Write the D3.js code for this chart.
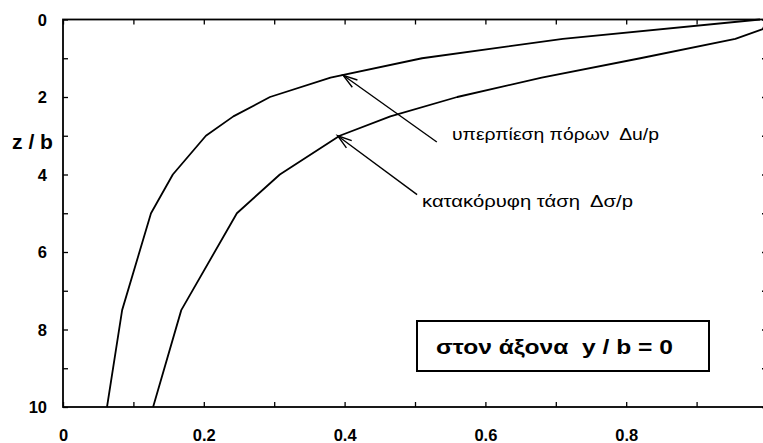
<!DOCTYPE html>
<html>
<head>
<meta charset="utf-8">
<script src="https://cdn.jsdelivr.net/npm/d3@7"></script>
<style>
  html, body { margin: 0; padding: 0; background: #fff; }
  svg { display: block; font-family: "Liberation Sans", Arial, sans-serif; }
  .axis path { display: none; }
  .axis line { stroke: #000; stroke-width: 1.3; }
  .axis text { font-weight: bold; font-size: 16.5px; fill: #000; }
</style>
</head>
<body>
<div id="chart"></div>
<script>
/* ---------- data ---------- */

// υπερπίεση πόρων Δu/p
const zPore = [0, 0.5, 1, 1.5, 2, 2.5, 3, 4, 5, 7.5, 10];
const porePressure = [0.99, 0.71, 0.51, 0.38, 0.294, 0.242, 0.203, 0.156, 0.125, 0.084, 0.0625];

// κατακόρυφη τάση Δσ/p
const zStress = [0, 0.25, 0.5, 1, 1.5, 2, 2.5, 3, 4, 5, 7.5, 10];
const verticalStress = [1.0, 0.994, 0.955, 0.82, 0.68, 0.56, 0.465, 0.393, 0.308, 0.247, 0.168, 0.128];

const xTicks = [0, 0.1, 0.2, 0.3, 0.4, 0.5, 0.6, 0.7, 0.8, 0.9, 1];
const xLabels = [0, 0.2, 0.4, 0.6, 0.8];
const yTicks = [0, 1, 2, 3, 4, 5, 6, 7, 8, 9, 10];
const yLabels = [0, 2, 4, 6, 8, 10];

// annotations: arrow tail -> tip (data units), label text
const labelPore = "υπερπίεση πόρων  Δu/p";
const labelStress = "κατακόρυφη τάση  Δσ/p";
const arrowPore = { from: [0.531, 3.16], to: [0.398, 1.44] };
const arrowStress = { from: [0.503, 4.52], to: [0.39, 3.0] };
const boxText = "στον άξονα  y / b = 0";

/* ---------- layout ---------- */

const W = 763, H = 443;
const margin = { top: 19.5, right: -4, bottom: 36, left: 63 };

const svg = d3.select("#chart").append("svg")
  .attr("width", W)
  .attr("height", H);

const x = d3.scaleLinear().domain([0, 1]).range([margin.left, W - margin.right]);
const y = d3.scaleLinear().domain([0, 10]).range([margin.top, H - margin.bottom]);

/* ---------- axes (ticks pointing inward) ---------- */

svg.append("g").attr("class", "axis")
  .attr("transform", `translate(${x(0)},0)`)
  .call(d3.axisLeft(y).tickValues(yTicks).tickSize(-5).tickPadding(16)
    .tickFormat(d => yLabels.includes(d) ? d : ""))
  .selectAll("text").attr("dy", "0.36em");

svg.append("g").attr("class", "axis")
  .attr("transform", `translate(${x(1)},0)`)
  .call(d3.axisRight(y).tickValues(yTicks).tickSize(-5).tickFormat(""));

svg.append("g").attr("class", "axis")
  .attr("transform", `translate(0,${y(10)})`)
  .call(d3.axisBottom(x).tickValues(xTicks).tickSize(-5).tickPadding(22)
    .tickFormat(d => xLabels.some(v => Math.abs(v - d) < 1e-9) ? d3.format("")(d) : ""));

svg.append("g").attr("class", "axis")
  .attr("transform", `translate(0,${y(0)})`)
  .call(d3.axisTop(x).tickValues(xTicks).tickSize(-5).tickFormat(""));

// frame
svg.append("rect")
  .attr("x", x(0)).attr("y", y(0))
  .attr("width", x(1) - x(0)).attr("height", y(10) - y(0))
  .attr("fill", "none").attr("stroke", "#000").attr("stroke-width", 1.8);

svg.append("text")
  .attr("x", 12).attr("y", 149)
  .attr("font-size", 20).attr("font-weight", "bold")
  .attr("textLength", 41).attr("lengthAdjust", "spacingAndGlyphs")
  .style("white-space", "pre")
  .text("z / b");

/* ---------- curves ---------- */

const line = d3.line().x(d => x(d[0])).y(d => y(d[1]));

svg.append("path")
  .datum(d3.zip(porePressure, zPore))
  .attr("d", line)
  .attr("fill", "none").attr("stroke", "#000").attr("stroke-width", 1.8)
  .attr("stroke-linejoin", "round");

svg.append("path")
  .datum(d3.zip(verticalStress, zStress))
  .attr("d", line)
  .attr("fill", "none").attr("stroke", "#000").attr("stroke-width", 1.8)
  .attr("stroke-linejoin", "round");

/* ---------- arrows ---------- */

function drawArrow(a) {
  const x1 = x(a.from[0]), y1 = y(a.from[1]);
  const x2 = x(a.to[0]), y2 = y(a.to[1]);
  svg.append("line")
    .attr("x1", x1).attr("y1", y1).attr("x2", x2).attr("y2", y2)
    .attr("stroke", "#000").attr("stroke-width", 1.4);
  const ang = Math.atan2(y1 - y2, x1 - x2);
  const len = 15, spread = 0.3;
  const p = [
    [x2 + len * Math.cos(ang - spread), y2 + len * Math.sin(ang - spread)],
    [x2, y2],
    [x2 + len * Math.cos(ang + spread), y2 + len * Math.sin(ang + spread)]
  ];
  svg.append("path")
    .attr("d", d3.line()(p))
    .attr("fill", "none").attr("stroke", "#000").attr("stroke-width", 1.4);
}
drawArrow(arrowPore);
drawArrow(arrowStress);

svg.append("text")
  .attr("x", 452).attr("y", 140)
  .attr("font-size", 16)
  .attr("textLength", 207).attr("lengthAdjust", "spacingAndGlyphs")
  .style("white-space", "pre")
  .text(labelPore);

svg.append("text")
  .attr("x", 422).attr("y", 207)
  .attr("font-size", 16)
  .attr("textLength", 211).attr("lengthAdjust", "spacingAndGlyphs")
  .style("white-space", "pre")
  .text(labelStress);

/* ---------- box ---------- */

svg.append("rect")
  .attr("x", 417).attr("y", 321)
  .attr("width", 292).attr("height", 50)
  .attr("fill", "#fff").attr("stroke", "#000").attr("stroke-width", 2);

svg.append("text")
  .attr("x", 436).attr("y", 354)
  .attr("font-size", 20).attr("font-weight", "bold")
  .attr("textLength", 237).attr("lengthAdjust", "spacingAndGlyphs")
  .style("white-space", "pre")
  .text(boxText);
</script>
</body>
</html>
